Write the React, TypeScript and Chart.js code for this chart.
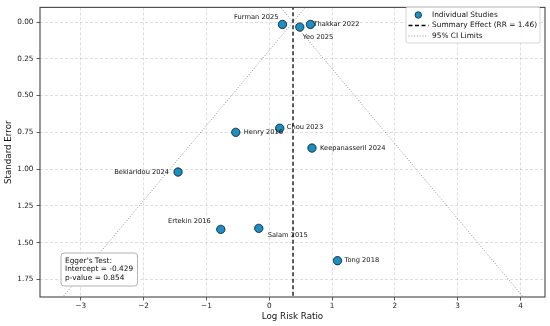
import React, { useEffect, useRef } from "react";
import { Chart, registerables } from "chart.js";

Chart.register(...registerables);

// ---- data ----
const studies = [
  "Furman 2025",
  "Thakkar 2022",
  "Yeo 2025",
  "Chou 2023",
  "Henry 2016",
  "Keepanasseril 2024",
  "Bekiaridou 2024",
  "Ertekin 2016",
  "Salam 2015",
  "Tong 2018",
];
const logRR = [0.21, 0.656, 0.486, 0.167, -0.533, 0.68, -1.452, -0.772, -0.167, 1.086];
const stdErr = [0.016, 0.016, 0.034, 0.722, 0.75, 0.857, 1.02, 1.41, 1.403, 1.623];
const summaryRR = 1.46;
const summaryLog = Math.log(summaryRR);
const ciSeRange = [-0.2, 2.0];
const xTicks = [-3, -2, -1, 0, 1, 2, 3, 4];
const yTicks = [0, 0.25, 0.5, 0.75, 1.0, 1.25, 1.5, 1.75];
const eggerIntercept = -0.429;
const eggerP = 0.854;

// ---- label styling (pixel offsets, alignment) ----
const labelStyle: Record<string, { dx: number; dy: number; align: CanvasTextAlign }> = {
  "Furman 2025": { dx: -4, dy: -7, align: "right" },
  "Thakkar 2022": { dx: 3, dy: 0, align: "left" },
  "Yeo 2025": { dx: 3, dy: 10, align: "left" },
  "Chou 2023": { dx: 7, dy: -1, align: "left" },
  "Henry 2016": { dx: 8, dy: 0, align: "left" },
  "Keepanasseril 2024": { dx: 8, dy: 0, align: "left" },
  "Bekiaridou 2024": { dx: -9, dy: 0, align: "right" },
  "Ertekin 2016": { dx: -10, dy: -8, align: "right" },
  "Salam 2015": { dx: 9, dy: 7, align: "left" },
  "Tong 2018": { dx: 7, dy: 0, align: "left" },
};

const FONT = "'DejaVu Sans', sans-serif";
const MARKER = "#1b8ec2";

export default function App() {
  const ref = useRef<HTMLCanvasElement | null>(null);

  useEffect(() => {
    document.body.style.margin = "0";
    const canvas = ref.current!;
    const points = logRR.map((x, i) => ({ x, y: stdErr[i] }));
    const ciLow = ciSeRange.map((s) => ({ x: summaryLog - 1.96 * s, y: s }));
    const ciHigh = ciSeRange.map((s) => ({ x: summaryLog + 1.96 * s, y: s }));
    const summaryLine = ciSeRange.map((s) => ({ x: summaryLog, y: s }));

    function roundRect(ctx: CanvasRenderingContext2D, x: number, y: number, w: number, h: number, r: number) {
      ctx.beginPath();
      ctx.moveTo(x + r, y);
      ctx.lineTo(x + w - r, y);
      ctx.arcTo(x + w, y, x + w, y + r, r);
      ctx.lineTo(x + w, y + h - r);
      ctx.arcTo(x + w, y + h, x + w - r, y + h, r);
      ctx.lineTo(x + r, y + h);
      ctx.arcTo(x, y + h, x, y + h - r, r);
      ctx.lineTo(x, y + r);
      ctx.arcTo(x, y, x + r, y, r);
      ctx.closePath();
    }

    const overlay = {
      id: "overlay",
      afterDatasetsDraw(chart: any) {
        const ctx = chart.ctx;
        const xs = chart.scales.x;
        const ys = chart.scales.y;
        const area = chart.chartArea;
        // annotations
        ctx.save();
        ctx.font = `6.7px ${FONT}`;
        ctx.fillStyle = "#111";
        ctx.textBaseline = "middle";
        studies.forEach((name, i) => {
          const st = labelStyle[name];
          const px = xs.getPixelForValue(logRR[i]);
          const py = ys.getPixelForValue(stdErr[i]);
          ctx.textAlign = st.align;
          ctx.fillText(name, px + st.dx, py + st.dy);
        });
        ctx.restore();

        // frame
        ctx.save();
        ctx.strokeStyle = "#444";
        ctx.lineWidth = 1.1;
        ctx.strokeRect(area.left, area.top, area.right - area.left, area.bottom - area.top);
        ctx.restore();

        // legend
        ctx.save();
        const lx = 406, ly = 7, lw = 134, lh = 36;
        roundRect(ctx, lx, ly, lw, lh, 2);
        ctx.fillStyle = "rgba(255,255,255,0.85)";
        ctx.fill();
        ctx.strokeStyle = "#cccccc";
        ctx.lineWidth = 0.8;
        ctx.stroke();
        ctx.font = `7.4px ${FONT}`;
        ctx.textBaseline = "middle";
        ctx.textAlign = "left";
        const rows = [15, 25.5, 36];
        ctx.beginPath();
        ctx.arc(418.3, rows[0], 3.3, 0, Math.PI * 2);
        ctx.fillStyle = MARKER;
        ctx.fill();
        ctx.strokeStyle = "#000";
        ctx.lineWidth = 0.6;
        ctx.stroke();
        ctx.beginPath();
        ctx.setLineDash([4, 2.5]);
        ctx.strokeStyle = "#000";
        ctx.lineWidth = 1.3;
        ctx.moveTo(408.5, rows[1]);
        ctx.lineTo(428.5, rows[1]);
        ctx.stroke();
        ctx.beginPath();
        ctx.setLineDash([1, 1.8]);
        ctx.strokeStyle = "#888";
        ctx.lineWidth = 0.9;
        ctx.moveTo(408.5, rows[2]);
        ctx.lineTo(428.5, rows[2]);
        ctx.stroke();
        ctx.setLineDash([]);
        ctx.fillStyle = "#111";
        ctx.fillText("Individual Studies", 432, rows[0]);
        ctx.fillText(`Summary Effect (RR = ${summaryRR.toFixed(2)})`, 432, rows[1]);
        ctx.fillText("95% CI Limits", 432, rows[2]);
        ctx.restore();

        // Egger box
        ctx.save();
        roundRect(ctx, 61, 253, 76.5, 33, 3);
        ctx.fillStyle = "rgba(255,255,255,0.9)";
        ctx.fill();
        ctx.strokeStyle = "#aaaaaa";
        ctx.lineWidth = 0.9;
        ctx.stroke();
        ctx.font = `7.4px ${FONT}`;
        ctx.fillStyle = "#111";
        ctx.textBaseline = "middle";
        ctx.textAlign = "left";
        ctx.fillText("Egger's Test:", 65, 261);
        ctx.fillText(`Intercept = ${eggerIntercept.toFixed(3)}`, 65, 269.3);
        ctx.fillText(`p-value = ${eggerP.toFixed(3)}`, 65, 277.6);
        ctx.restore();
      },
    };

    const gridCommon = {
      color: "rgba(0,0,0,0.16)",
      lineWidth: 0.8,
      drawTicks: true,
      tickLength: 3.5,
      tickColor: "#333",
      tickWidth: 0.8,
      tickBorderDash: [],
    };

    const chart = new Chart(canvas, {
      type: "scatter",
      data: {
        datasets: [
          {
            label: "Individual Studies",
            data: points,
            backgroundColor: MARKER,
            borderColor: "#000",
            borderWidth: 0.7,
            pointRadius: 4.2,
            order: 0,
          },
          {
            label: "Summary",
            data: summaryLine,
            showLine: true,
            borderColor: "#000",
            borderWidth: 1.3,
            borderDash: [4, 2.5],
            pointRadius: 0,
            order: 1,
          },
          {
            label: "CI low",
            data: ciLow,
            showLine: true,
            borderColor: "#8a8a8a",
            borderWidth: 0.9,
            borderDash: [1, 1.8],
            pointRadius: 0,
            order: 2,
          },
          {
            label: "CI high",
            data: ciHigh,
            showLine: true,
            borderColor: "#8a8a8a",
            borderWidth: 0.9,
            borderDash: [1, 1.8],
            pointRadius: 0,
            order: 2,
          },
        ],
      },
      options: {
        responsive: false,
        animation: false,
        events: [],
        layout: { autoPadding: false, padding: { top: 4, right: 5, left: 0, bottom: 0 } },
        plugins: { legend: { display: false }, tooltip: { enabled: false } },
        scales: {
          x: {
            type: "linear",
            min: -3.65,
            max: 4.39,
            afterBuildTicks: (s: any) => {
              s.ticks = xTicks.map((v) => ({ value: v }));
            },
            afterFit: (s: any) => {
              s.height = 29;
            },
            ticks: {
              font: { family: FONT, size: 7.3 },
              color: "#222",
              padding: 1.5,
              maxRotation: 0,
              callback: (v: any) => (Number(v) < 0 ? "\u2212" + Math.abs(Number(v)) : String(v)),
            },
            grid: gridCommon as any,
            border: { display: false, dash: [3, 2] },
            title: {
              display: true,
              text: "Log Risk Ratio",
              font: { family: FONT, size: 8.7 },
              color: "#111",
              padding: { top: 0, bottom: 4 },
            },
          },
          y: {
            type: "linear",
            reverse: true,
            min: -0.1,
            max: 1.87,
            afterBuildTicks: (s: any) => {
              s.ticks = yTicks.map((v) => ({ value: v }));
            },
            afterFit: (s: any) => {
              s.width = 40;
            },
            ticks: {
              font: { family: FONT, size: 7.3 },
              color: "#222",
              padding: 3,
              callback: (v: any) => Number(v).toFixed(2),
            },
            grid: gridCommon as any,
            border: { display: false, dash: [3, 2] },
            title: {
              display: true,
              text: "Standard Error",
              font: { family: FONT, size: 8.7 },
              color: "#111",
              padding: { top: 4, bottom: 0 },
            },
          },
        },
      },
      plugins: [overlay],
    });
    return () => chart.destroy();
  }, []);

  return (
    <div style={{ width: 550, height: 326, background: "#fff" }}>
      <canvas ref={ref} width={550} height={326} />
    </div>
  );
}
